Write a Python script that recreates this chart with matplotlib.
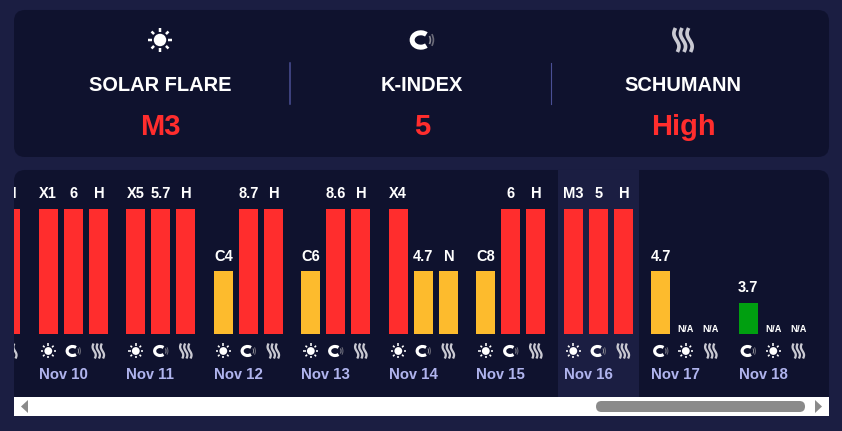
import numpy as np
import matplotlib
matplotlib.use("Agg")
import matplotlib.pyplot as plt
from matplotlib.patches import FancyBboxPatch, Rectangle, Polygon, Circle, Arc

plt.rcParams['font.family'] = ['Liberation Sans', 'DejaVu Sans']
plt.rcParams['text.hinting'] = 'default'

# Colours
PAGE = "#1b1e42"
PANEL = "#0f122e"
RED = "#ff2d2d"
AMBER = "#fdbb2d"
GREEN = "#009f10"
DATE_COLOR = "#b0b4ee"
LEVEL_COLORS = {0: PANEL, 1: GREEN, 2: AMBER, 4: RED}

# Summary cards
summary_titles = ["SOLAR FLARE", "K-INDEX", "SCHUMANN"]
summary_values = ["M3", "5", "High"]
summary_icons = ["sun", "magnet", "waves"]

# Daily bars, three per day
dates = ["", "Nov 10", "Nov 11", "Nov 12", "Nov 13", "Nov 14",
         "Nov 15", "Nov 16", "Nov 17", "Nov 18"]
bar_labels = [
    ["", "", "H"],
    ["X1", "6", "H"],
    ["X5", "5.7", "H"],
    ["C4", "8.7", "H"],
    ["C6", "8.6", "H"],
    ["X4", "4.7", "N"],
    ["C8", "6", "H"],
    ["M3", "5", "H"],
    ["4.7", "N/A", "N/A"],
    ["3.7", "N/A", "N/A"],
]
bar_levels = [
    [0, 0, 4],
    [4, 4, 4],
    [4, 4, 4],
    [2, 4, 4],
    [2, 4, 4],
    [4, 2, 2],
    [2, 4, 4],
    [4, 4, 4],
    [2, 0, 0],
    [1, 0, 0],
]
day_icons = [["sun", "magnet", "waves"]] * 8 + [["magnet", "sun", "waves"]] * 2
today = "Nov 16"

W, H = 842, 431
DAY_PX = 87.5
SLOT_PX = 25
FIRST_PX = 48.3 - DAY_PX  # centre of the first bar of the first day


def draw_sun(ax, cx, cy, r):
    ax.add_patch(Circle((cx, cy), r * 0.52, color="white", lw=0))
    for a in np.arange(0, 360, 45):
        c, s = np.cos(np.radians(a)), np.sin(np.radians(a))
        ax.plot([cx + c * r * 0.7, cx + c * r], [cy + s * r * 0.7, cy + s * r],
                color="white", lw=r * 0.15, solid_capstyle="butt")


def draw_magnet(ax, cx, cy, r):
    mid_x = cx - r * 0.1
    ax.add_patch(Arc((mid_x, cy), r * 1.44, r * 1.2, theta1=45, theta2=315,
                     color="white", lw=r * 0.3))
    ax.add_patch(Arc((mid_x, cy), r * 1.6, r * 1.5, theta1=-25, theta2=25,
                     color="#8a8a94", lw=r * 0.1))
    ax.add_patch(Arc((mid_x, cy), r * 2.1, r * 2.0, theta1=-28, theta2=28,
                     color="#6a6a78", lw=r * 0.1))


def draw_waves(ax, cx, cy, r):
    t = np.linspace(-1, 1, 40)
    for off in (-0.55, 0, 0.55):
        ax.plot(cx + r * (off + 0.08 * t + 0.17 * np.sin(t * np.pi)), cy + r * t,
                color="#c9c9d2", lw=r * 0.22, solid_capstyle="butt")


ICONS = {"sun": draw_sun, "magnet": draw_magnet, "waves": draw_waves}


def pixel_axes(fig, left, top, right, bottom):
    ax = fig.add_axes([left / W, 1 - bottom / H, (right - left) / W, (bottom - top) / H])
    ax.set_xlim(left, right)
    ax.set_ylim(bottom, top)
    ax.axis("off")
    return ax


fig = plt.figure(figsize=((W + 0.01) / 100, (H + 0.01) / 100), dpi=100, facecolor=PAGE)
back = pixel_axes(fig, 0, 0, W, H)

# Panels
for top, bottom in [(10, 157), (170, 416)]:
    back.add_patch(FancyBboxPatch((14, top), 815, bottom - top,
                                  boxstyle="round,pad=0,rounding_size=11",
                                  fc=PANEL, ec="none"))

# Summary row
for x, title, value, icon in zip([160, 422, 683], summary_titles, summary_values, summary_icons):
    ICONS[icon](back, x, 40, 12)
    back.text(x, 91, title, color="white", fontsize=14.4, fontweight="bold",
              ha="center", va="baseline")
    back.text(x, 135, value, color=RED, fontsize=21, fontweight="bold",
              ha="center", va="baseline")
back.plot([290, 290], [63, 104], color="#4a4f95", lw=1.1)
back.plot([551, 551], [63, 104], color="#4a4f95", lw=0.8)

# Highlighted column
today_left = FIRST_PX + dates.index(today) * DAY_PX - 15.3
back.add_patch(Rectangle((today_left, 170), 81, 227, fc=PAGE, ec="none"))

# Bars: one x unit is one slot, one y unit is one level
ax = fig.add_axes([14 / W, 1 - 397 / H, 815 / W, 227 / H])
ax.set_xlim((14 - FIRST_PX) / SLOT_PX, (829 - FIRST_PX) / SLOT_PX)
ax.set_ylim(-63 / 31.25, 164 / 31.25)
ax.axis("off")

for i, date in enumerate(dates):
    xs = i * DAY_PX / SLOT_PX + np.arange(3)
    colors = [LEVEL_COLORS[v] for v in bar_levels[i]]
    ax.bar(xs, bar_levels[i], width=0.76, color=colors, linewidth=0)
    for x, level, label in zip(xs, bar_levels[i], bar_labels[i]):
        small = label == "N/A"
        ax.annotate(label, (x, level), xytext=(0, 1.5 if small else 7.6),
                    textcoords="offset points", ha="center", va="baseline",
                    color="white", fontweight="bold", fontsize=7 if small else 10.5,
                    annotation_clip=False, clip_on=True)
    ax.text(xs[0] - 0.38, -45 / 31.25, date, color=DATE_COLOR, fontsize=10.8,
            fontweight="bold", ha="left", va="baseline", clip_on=True)

# Small icons under the bars
icon_ax = pixel_axes(fig, 14, 170, 829, 397)
for i, names in enumerate(day_icons):
    for j, name in enumerate(names):
        ICONS[name](icon_ax, FIRST_PX + i * DAY_PX + j * SLOT_PX, 351, 7.5)

# Scrollbar
front = pixel_axes(fig, 0, 0, W, H)
front.add_patch(Rectangle((14, 397), 815, 19, fc="white", ec="none"))
front.add_patch(FancyBboxPatch((596, 401), 209, 11, boxstyle="round,pad=0,rounding_size=5.5",
                               fc="#8a8a8a", ec="none"))
front.add_patch(Polygon([(28, 400), (28, 413), (21, 406.5)], fc="#8a8a8a", ec="none"))
front.add_patch(Polygon([(815, 400), (815, 413), (822, 406.5)], fc="#8a8a8a", ec="none"))

fig.savefig("out.png", dpi=100, facecolor=PAGE)
